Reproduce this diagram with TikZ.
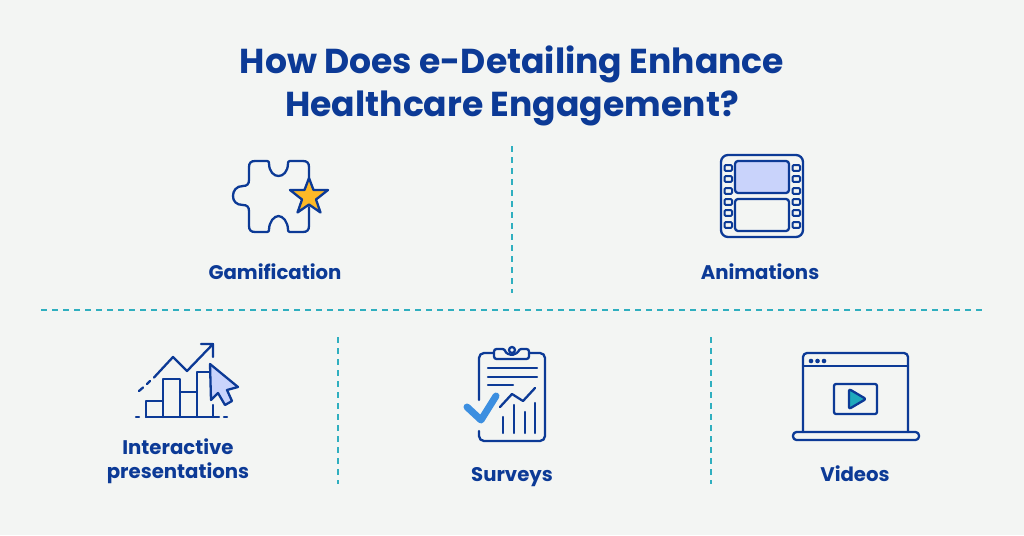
\documentclass[tikz,border=0pt]{standalone}
\usepackage{fontspec}
\setmainfont{Poppins}[BoldFont={Poppins Bold}]
\definecolor{bgc}{HTML}{F3F5F3}
\definecolor{navy}{HTML}{0C3A96}
\definecolor{teal}{HTML}{2FAFBF}
\definecolor{lav}{HTML}{C9D3FB}
\definecolor{gold}{HTML}{FDB927}
\definecolor{chk}{HTML}{3C8FE0}
\definecolor{ply}{HTML}{1FA9BC}
\tikzset{
 icon/.style={draw=navy,line width=2.3pt,line join=round,line cap=round},
 sprocket/.style={draw=navy,line width=2pt,rounded corners=1pt},
 sep/.style={draw=teal,line width=1.5pt,dash pattern=on 5.5pt off 5.5pt},
 lbl/.style={text=navy,font=\bfseries\fontsize{19.7}{24}\selectfont,inner sep=0pt,anchor=base},
 ttl/.style={text=navy,font=\bfseries\fontsize{34.6}{43}\selectfont,inner sep=0pt,anchor=base},
}
\begin{document}
\begin{tikzpicture}[x=1pt,y=-1pt]
\fill[bgc] (0,0) rectangle (1024,535);
\useasboundingbox (0,0) rectangle (1024,535);
\node[ttl] (title1) at (512,73) {How Does e-Detailing Enhance};
\node[ttl] (title2) at (512,116) {Healthcare Engagement?};
% separators
\draw[sep] (512,146) -- (512,293);
\draw[sep] (41,310) -- (982,310);
\draw[sep] (338,337) -- (338,484);
\draw[sep] (711,337) -- (711,484);
% puzzle
\draw[icon] (309,178) -- (309,167) .. controls (309,163) and (307,161) .. (303,161) -- (290,161)
  .. controls (288.5,161) and (288,162) .. (288,163)
  .. controls (288,172) and (283,176) .. (278.5,176) .. controls (274,176) and (269,172) .. (269,163)
  .. controls (269,162) and (268.5,161) .. (267,161) -- (255,161)
  .. controls (251,161) and (249,163) .. (249,167) -- (249,180)
  .. controls (249,184) and (247,186) .. (243,186)
  .. controls (236,186) and (233,191) .. (233,196)
  .. controls (233,201) and (236,205) .. (243,205)
  .. controls (247,205) and (249,207) .. (249,211)
  -- (249,226) .. controls (249,230) and (251,232) .. (255,232) -- (267,232)
  .. controls (268.5,232) and (269,231) .. (269,230)
  .. controls (269,222) and (274,216) .. (278.5,216)
  .. controls (283,216) and (288,222) .. (288,230)
  .. controls (288,231) and (288.5,232) .. (290,232) -- (303,232)
  .. controls (307,232) and (309,230) .. (309,226) -- (309,207);
\draw[icon,fill=gold] (309,178) -- (313.5,190) -- (328,190) -- (316,199.5) -- (320.5,212.5) -- (309,204.5) -- (297.5,212.5) -- (302,199.5) -- (290,190) -- (304.5,190) -- cycle;
\node[lbl] (gam) at (275,279) {Gamification};
% film
\draw[icon,rounded corners=7pt] (721,155) rectangle (803,237);
\draw[icon,fill=lav,rounded corners=3pt] (735,161) rectangle (789,193);
\draw[icon,rounded corners=3pt] (735,199) rectangle (789,231);
\foreach \yy in {168,179,191,202,213,225}{
  \draw[sprocket] (724.5,\yy-2.8) rectangle (732,\yy+2.8);
  \draw[sprocket] (792.5,\yy-2.8) rectangle (800,\yy+2.8);
}
\node[lbl] (ani) at (760,279) {Animations};
% chart
\draw[icon] (136,417) -- (139,417) (146,417) -- (219,417) (224,417) -- (227,417);
\draw[icon] (146,417) -- (146,401) -- (163,401) -- (163,417);
\draw[icon] (163,401) -- (163,379) -- (180,379) -- (180,417);
\draw[icon] (180,392) -- (197,392) -- (197,417);
\draw[icon] (197,392) -- (197,372) -- (210,372);
\draw[icon] (213,405) -- (213,417);
\draw[icon] (139,391) -- (143,387.5) (147,384) -- (150,381) (154,377.5) -- (173,357) -- (187,371) -- (213,344) (201,344) -- (213,344) -- (213,357);
\draw[icon,fill=lav] (210,364) -- (238,387) -- (227,390) -- (232,401) -- (225,405) -- (218,393) -- (211,400) -- cycle;
\node[lbl] (inter1) at (178,454) {Interactive};
\node[lbl] (inter2) at (178,478) {presentations};
% clipboard
\draw[icon] (494,353) -- (484,353) arc[start angle=-90,end angle=-180,radius=5] -- (479,400);
\draw[icon] (529,353) -- (540,353) arc[start angle=-90,end angle=0,radius=5] -- (545,436) arc[start angle=0,end angle=90,radius=5] -- (484,441) arc[start angle=90,end angle=180,radius=5] -- (479,431);
\draw[icon,rounded corners=2.5pt] (494,359) -- (494,349) -- (505,349) arc[start angle=170,end angle=10,radius=7] -- (529,349) -- (529,359) -- cycle;
\draw[icon] (512,350) circle[radius=3];
\draw[icon] (488,368) -- (537,368) (488,377) -- (537,377) (488,385) -- (513,385);
\draw[icon] (500,407) -- (512,394) -- (523,401) -- (535,388);
\draw[icon] (503,417) -- (503,433) (514,405) -- (514,433) (525,412) -- (525,433) (535,403) -- (535,433);
\draw[draw=chk,line width=7pt,line cap=round,line join=round] (467,407) -- (481,420) -- (496,396);
\node[lbl] (sur) at (512,481) {Surveys};
% video
\draw[icon,rounded corners=4pt] (803,432) -- (803,353) -- (908,353) -- (908,432);
\draw[icon] (803,366) -- (908,366);
\fill[navy] (811,361) circle[radius=2.3] (817.5,361) circle[radius=2.3] (824,361) circle[radius=2.3];
\draw[icon,rounded corners=3.5pt] (793,432) rectangle (919,440);
\draw[icon,rounded corners=2pt] (834,384) rectangle (877,414);
\draw[icon,fill=ply,rounded corners=2pt] (849,389) -- (866,399) -- (849,409) -- cycle;
\node[lbl] (vid) at (855,481) {Videos};
\end{tikzpicture}
\end{document}
